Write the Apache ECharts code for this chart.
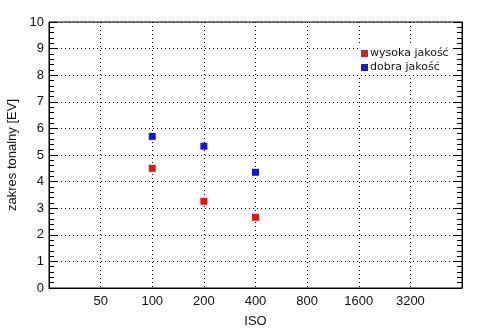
<!DOCTYPE html>
<html>
<head>
<meta charset="utf-8">
<script src="https://cdn.jsdelivr.net/npm/echarts@6/dist/echarts.min.js"></script>
<style>
  html, body {margin: 0; padding: 0; background: #fff;}
  #chart {width: 494px; height: 331px;}
</style>
</head>
<body>
<div id="chart"></div>
<script>
// ISO steps (one octave apart) and measured tonal range [EV]
const isoSteps = ['25', '50', '100', '200', '400', '800', '1600', '3200', '6400'];
const isoValues = ['100', '200', '400'];
const highQuality = [4.5, 3.26, 2.66];
const goodQuality = [5.7, 5.33, 4.35];

const chart = echarts.init(document.getElementById('chart'));

const axisFont = {fontFamily: 'Liberation Sans', fontSize: 13, color: '#111'};
const dotted = {color: '#000', type: [1, 3], width: 1};

function yTicks(pos) {
    return {
        type: 'value',
        position: pos,
        min: 0,
        max: 10,
        interval: 1,
        axisLine: {show: true, lineStyle: {color: '#000', width: 1}},
        axisTick: {show: true, inside: true, length: 8, lineStyle: {color: '#000'}},
        minorTick: {show: true, splitNumber: 5, length: 5, lineStyle: {color: '#000'}},
        axisLabel: pos === 'left' ? Object.assign({margin: 5}, axisFont) : {show: false},
        splitLine: {show: pos === 'left', lineStyle: dotted},
        name: pos === 'left' ? 'zakres tonalny [EV]' : '',
        nameLocation: 'middle',
        nameGap: 30,
        nameTextStyle: axisFont
    };
}

chart.setOption({
    animation: false,
    grid: {
        left: 49, right: 32, top: 22, bottom: 43,
        outerBoundsMode: 'none',
        show: true, borderColor: '#000', borderWidth: 1
    },
    xAxis: {
        type: 'category',
        data: isoSteps,
        boundaryGap: false,
        axisLine: {show: true, lineStyle: {color: '#000'}},
        axisTick: {show: false},
        axisLabel: Object.assign({
            margin: 7,
            interval: 0,
            formatter: (v, i) => (i === 0 || i === isoSteps.length - 1) ? '' : v
        }, axisFont),
        splitLine: {show: true, interval: 0, lineStyle: dotted},
        name: 'ISO',
        nameLocation: 'middle',
        nameGap: 27,
        nameTextStyle: axisFont
    },
    yAxis: [yTicks('left'), yTicks('right')],
    legend: {
        orient: 'vertical',
        left: 358,
        top: 46,
        padding: [2, 4, 2, 3],
        itemGap: 3,
        itemWidth: 7,
        itemHeight: 7,
        icon: 'rect',
        backgroundColor: '#fff',
        textStyle: {fontFamily: 'DejaVu Sans', fontSize: 11, color: '#111', padding: [0, 0, 0, -3]},
        data: [
            {name: 'wysoka jakość', itemStyle: {color: '#c02a2a', opacity: 1}},
            {name: 'dobra jakość', itemStyle: {color: '#1a1ad0', opacity: 1}}
        ]
    },
    series: [
        {
            name: 'wysoka jakość',
            type: 'scatter',
            symbol: 'rect',
            symbolSize: 7,
            itemStyle: {color: '#e81414', opacity: 1},
            data: isoValues.map((x, i) => [x, highQuality[i]])
        },
        {
            name: 'dobra jakość',
            type: 'scatter',
            symbol: 'rect',
            symbolSize: 7,
            itemStyle: {color: '#1414e0', opacity: 1},
            data: isoValues.map((x, i) => [x, goodQuality[i]])
        }
    ]
});
</script>
</body>
</html>
